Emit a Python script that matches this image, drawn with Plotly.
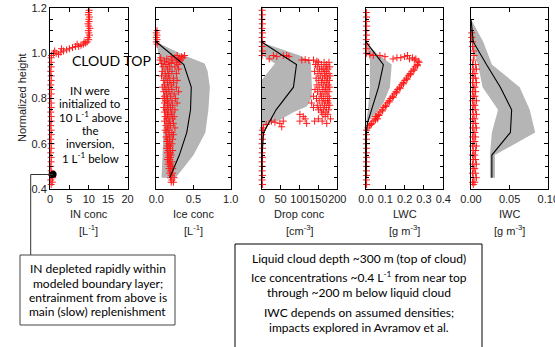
import plotly.graph_objects as go

W, H = 555, 347

# ---------------- DATA ----------------
# Panel 1: IN concentration [L^-1]
in_h = [0.42, 0.43, 0.44, 0.45, 0.46, 0.47, 0.48, 0.50, 0.52, 0.54, 0.56, 0.58, 0.60, 0.62, 0.64,
        0.66, 0.68, 0.70, 0.72, 0.74, 0.76, 0.78, 0.80, 0.82, 0.84, 0.86, 0.88, 0.90, 0.92,
        0.94, 0.96, 0.98, 0.99,
        1.00, 1.00, 0.995, 1.005, 1.01, 1.01, 1.015, 1.02, 1.02, 1.025, 1.03, 1.03, 1.035,
        1.04, 1.04, 1.045, 1.05, 1.05,
        1.06, 1.07, 1.08, 1.09, 1.10, 1.11, 1.12, 1.13, 1.14, 1.15, 1.16, 1.17, 1.18, 1.19]
in_x = [0.3, 0.6, 0.2, 0.7, 0.4, 0.5, 0.3, 0.2, 0.3, 0.3, 0.2, 0.3, 0.3, 0.2, 0.3,
        0.3, 0.2, 0.3, 0.3, 0.2, 0.3, 0.3, 0.2, 0.3, 0.3, 0.2, 0.3, 0.3, 0.2,
        0.3, 0.3, 0.3, 0.4,
        0.9, 1.6, 2.2, 2.8, 3.5, 1.2, 4.3, 5.0, 3.0, 5.8, 6.6, 7.4, 8.0,
        8.6, 7.0, 9.2, 9.6, 8.8,
        10.0, 9.8, 10.2, 10.0, 9.9, 10.3, 10.0, 9.8, 10.1, 10.0, 10.2, 9.9, 10.0, 10.1]
in_dot_h = [0.465]
in_dot_x = [0.8]

# Panel 2: Ice concentration [L^-1]
ice_h = [1.04, 1.05, 1.06, 1.07, 1.08, 1.09, 1.10,
         0.99, 0.99, 0.985, 0.985, 0.98, 0.98, 0.98, 0.975, 0.975, 0.97, 0.97, 0.97,
         0.965, 0.965, 0.96, 0.96, 0.955, 0.955, 0.95, 0.95, 0.94, 0.94, 0.94,
         0.93, 0.93, 0.92, 0.92, 0.91, 0.91, 0.91, 0.90, 0.90, 0.89, 0.89,
         0.88, 0.88, 0.88, 0.87, 0.87, 0.86, 0.86, 0.85, 0.85, 0.85, 0.84, 0.84,
         0.83, 0.83, 0.83, 0.82, 0.82, 0.81, 0.81, 0.80, 0.80, 0.80, 0.79, 0.79,
         0.78, 0.78, 0.78, 0.77, 0.77, 0.76, 0.76, 0.75, 0.75, 0.75, 0.74, 0.74,
         0.73, 0.73, 0.72, 0.72, 0.72, 0.71, 0.71, 0.70, 0.70, 0.69, 0.69,
         0.68, 0.68, 0.67, 0.67, 0.66, 0.66, 0.65, 0.65, 0.64, 0.64, 0.63, 0.63,
         0.62, 0.62, 0.61, 0.61, 0.60, 0.60, 0.59, 0.59, 0.58, 0.58, 0.57, 0.57,
         0.56, 0.56, 0.55, 0.55, 0.54, 0.54, 0.53, 0.53, 0.52, 0.52, 0.51, 0.51,
         0.50, 0.50, 0.49, 0.49, 0.48, 0.47, 0.47, 0.46, 0.45, 0.45, 0.44, 0.43, 0.43]
ice_x = [0.01, 0.00, 0.01, 0.00, 0.01, 0.00, 0.01,
         0.28, 0.38, 0.20, 0.34, 0.06, 0.25, 0.36, 0.14, 0.30, 0.05, 0.22, 0.32,
         0.11, 0.31, 0.17, 0.27, 0.07, 0.20, 0.13, 0.29, 0.09, 0.18, 0.25,
         0.15, 0.30, 0.08, 0.21, 0.12, 0.17, 0.27, 0.07, 0.16, 0.13, 0.23,
         0.10, 0.18, 0.28, 0.15, 0.23, 0.11, 0.20, 0.08, 0.16, 0.27, 0.13, 0.21,
         0.10, 0.17, 0.30, 0.14, 0.24, 0.11, 0.19, 0.09, 0.15, 0.26, 0.13, 0.21,
         0.11, 0.17, 0.28, 0.15, 0.22, 0.10, 0.19, 0.13, 0.16, 0.25, 0.11, 0.21,
         0.15, 0.20, 0.12, 0.17, 0.24, 0.14, 0.22, 0.11, 0.18, 0.16, 0.23,
         0.13, 0.19, 0.15, 0.25, 0.12, 0.17, 0.14, 0.21, 0.17, 0.23, 0.13, 0.18,
         0.15, 0.22, 0.14, 0.18, 0.16, 0.21, 0.15, 0.19, 0.14, 0.18, 0.16, 0.22,
         0.15, 0.19, 0.17, 0.20, 0.16, 0.19, 0.15, 0.18, 0.17, 0.21, 0.16, 0.19,
         0.18, 0.21, 0.17, 0.22, 0.19, 0.18, 0.22, 0.20, 0.19, 0.24, 0.21, 0.20, 0.23]
ice_line_h = [1.05, 0.95, 0.85, 0.75, 0.65, 0.55, 0.45]
ice_line_x = [0.00, 0.37, 0.47, 0.46, 0.41, 0.31, 0.18]
ice_hi_h = [1.05, 1.00, 0.99, 0.955, 0.92, 0.85, 0.75, 0.65, 0.55, 0.50, 0.45]
ice_hi_x = [0.00, 0.30, 0.38, 0.65, 0.69, 0.72, 0.70, 0.66, 0.50, 0.38, 0.26]
ice_lo_h = [0.45, 0.50, 0.60, 0.70, 0.80, 0.90, 0.95, 1.00, 1.05]
ice_lo_x = [0.07, 0.08, 0.09, 0.10, 0.10, 0.08, 0.05, 0.02, 0.00]

# Panel 3: Drop concentration [cm^-3]
drop_h = [1.19, 1.17, 1.15, 1.13, 1.11, 1.09, 1.07, 1.05, 1.03, 1.01, 0.99,
          0.99, 0.985, 0.99, 0.99, 0.985, 0.975,
          0.97, 0.972, 0.968, 0.97, 0.965,
          0.96, 0.96, 0.96, 0.95, 0.95, 0.95, 0.94, 0.94, 0.94, 0.93, 0.93, 0.93,
          0.92, 0.92, 0.92, 0.91, 0.91, 0.91, 0.90, 0.90, 0.90, 0.89, 0.89, 0.89,
          0.88, 0.88, 0.88, 0.87, 0.87, 0.86, 0.86, 0.86, 0.85, 0.85, 0.85,
          0.84, 0.84, 0.84, 0.83, 0.83, 0.83, 0.82, 0.82, 0.81, 0.81, 0.81,
          0.80, 0.80, 0.80, 0.79, 0.79, 0.79, 0.78, 0.78, 0.78, 0.77, 0.77, 0.77,
          0.76, 0.76, 0.76, 0.75, 0.75, 0.75, 0.74, 0.74, 0.73, 0.73, 0.73,
          0.72, 0.72, 0.71, 0.71, 0.70, 0.70, 0.69, 0.69, 0.71, 0.70,
          0.70, 0.695, 0.69, 0.70, 0.675, 0.685, 0.67,
          0.66, 0.64, 0.62, 0.60, 0.58, 0.56, 0.54, 0.52, 0.50, 0.48, 0.46, 0.44, 0.42]
drop_x = [1, 2, 1, 2, 1, 2, 1, 2, 1, 2, 1,
          31, 40, 57, 66, 72, 20,
          106, 115, 125, 137, 146,
          150, 165, 178, 142, 158, 172, 147, 168, 180, 153, 163, 175,
          140, 159, 171, 149, 166, 178, 155, 170, 181, 144, 161, 174,
          151, 167, 179, 158, 172, 146, 163, 176, 152, 169, 180,
          141, 160, 173, 148, 165, 178, 155, 170, 137, 158, 175,
          145, 163, 179, 152, 168, 174, 132, 160, 176, 147, 166, 180,
          137, 155, 171, 150, 163, 177, 158, 170, 101, 162, 175,
          110, 168, 115, 150, 101, 140, 119, 172, 182, 160,
          26, 35, 48, 57, 53, 12, 5,
          2, 1, 2, 1, 2, 1, 2, 1, 2, 1, 2, 1, 2]
drop_line_h = [1.05, 0.95, 0.85, 0.75, 0.65, 0.55, 0.45]
drop_line_x = [0, 92, 84, 38, 5, 1, 0]
drop_hi_h = [1.047, 0.99, 0.96, 0.85, 0.80, 0.765, 0.74, 0.705, 0.683, 0.675]
drop_hi_x = [0, 101, 130, 133, 132, 119, 85, 48, 13, 0]
drop_lo_h = [0.675, 0.882, 0.955, 0.992, 1.047]
drop_lo_x = [0, 0, 35, 0, 0]

# Panel 4: LWC [g m^-3]
lwc_h = [1.18, 1.16, 1.14, 1.12, 1.10, 1.08, 1.06, 1.04, 1.02, 1.00,
         0.995, 0.99, 0.99, 0.985,
         0.975, 0.98, 0.98, 0.985, 0.99, 0.975, 0.98, 0.975, 0.965, 0.97, 0.96,
         0.95, 0.94, 0.93, 0.92, 0.91, 0.90, 0.89, 0.88, 0.87, 0.86, 0.85, 0.84, 0.83,
         0.82, 0.81, 0.80, 0.79, 0.78, 0.77, 0.76, 0.75, 0.74, 0.73, 0.72, 0.71,
         0.70, 0.69, 0.68, 0.67,
         0.945, 0.925, 0.905, 0.885, 0.865, 0.845, 0.825, 0.805, 0.785, 0.765,
         0.745, 0.725, 0.705, 0.685, 0.71, 0.72,
         0.66, 0.64, 0.62, 0.60, 0.58, 0.56, 0.54, 0.52, 0.50, 0.48, 0.46, 0.44, 0.42]
lwc_x = [0.002, 0.003, 0.002, 0.003, 0.002, 0.003, 0.002, 0.003, 0.002, 0.003,
         0.020, 0.038, 0.072, 0.098,
         0.140, 0.160, 0.180, 0.200, 0.215, 0.225, 0.240, 0.258, 0.270, 0.250, 0.275,
         0.265, 0.255, 0.246, 0.237, 0.228, 0.219, 0.210, 0.201, 0.192, 0.183, 0.174, 0.164, 0.155,
         0.146, 0.137, 0.128, 0.119, 0.110, 0.101, 0.092, 0.083, 0.073, 0.064, 0.055, 0.046,
         0.037, 0.028, 0.019, 0.010,
         0.266, 0.248, 0.230, 0.212, 0.194, 0.176, 0.158, 0.140, 0.121, 0.103,
         0.085, 0.067, 0.049, 0.026, 0.060, 0.050,
         0.003, 0.002, 0.003, 0.002, 0.003, 0.002, 0.003, 0.002, 0.003, 0.002, 0.003, 0.002, 0.003]
lwc_line_h = [1.05, 0.95, 0.85, 0.75, 0.69, 0.65, 0.55, 0.45]
lwc_line_x = [0.0, 0.090, 0.065, 0.030, 0.007, 0.002, 0.0, 0.0]
lwc_hi_h = [1.05, 1.00, 0.95, 0.85, 0.78, 0.73, 0.69]
lwc_hi_x = [0.0, 0.055, 0.133, 0.124, 0.090, 0.047, 0.0]
lwc_lo_h = [0.69, 0.75, 0.85, 0.95, 0.97, 1.00, 1.05]
lwc_lo_x = [0.0, 0.010, 0.020, 0.020, 0.020, 0.010, 0.0]

# Panel 5: IWC [g m^-3]
iwc_h = [1.09, 1.07, 1.05, 1.03, 1.01, 0.99, 0.97,
         0.95, 0.95, 0.93, 0.93, 0.91, 0.91, 0.89, 0.89, 0.87, 0.87, 0.85, 0.85,
         0.83, 0.83, 0.81, 0.81, 0.79, 0.79, 0.77, 0.77, 0.75, 0.75, 0.73, 0.73,
         0.71, 0.71, 0.69, 0.69, 0.67, 0.67, 0.65, 0.65, 0.63, 0.63, 0.61, 0.61,
         0.59, 0.59, 0.57, 0.57, 0.55, 0.55, 0.53, 0.53, 0.51, 0.51, 0.49, 0.49,
         0.47, 0.47, 0.45, 0.45, 0.43, 0.43, 0.42]
iwc_x = [0.001, 0.001, 0.002, 0.002, 0.003, 0.004, 0.003,
         0.002, 0.006, 0.003, 0.007, 0.002, 0.005, 0.003, 0.006, 0.002, 0.007, 0.003, 0.005,
         0.002, 0.006, 0.003, 0.005, 0.002, 0.007, 0.003, 0.005, 0.002, 0.006, 0.003, 0.007,
         0.002, 0.005, 0.003, 0.006, 0.002, 0.007, 0.003, 0.005, 0.002, 0.006, 0.003, 0.005,
         0.002, 0.007, 0.003, 0.006, 0.002, 0.005, 0.003, 0.006, 0.002, 0.007, 0.003, 0.005,
         0.002, 0.006, 0.003, 0.007, 0.002, 0.005, 0.003]
iwc_line_h = [1.15, 1.05, 0.95, 0.85, 0.75, 0.65, 0.55, 0.45]
iwc_line_x = [0.0, 0.003, 0.020, 0.038, 0.0526, 0.051, 0.027, 0.027]
iwc_hi_h = [1.15, 1.05, 0.95, 0.85, 0.75, 0.65, 0.55, 0.45]
iwc_hi_x = [0.0, 0.016, 0.027, 0.063, 0.076, 0.083, 0.031, 0.031]
iwc_lo_h = [0.45, 0.55, 0.65, 0.75, 0.85, 0.95, 1.05, 1.15]
iwc_lo_x = [0.0245, 0.0245, 0.027, 0.035, 0.015, 0.009, 0.0, 0.0]

# Axis settings (ranges, tick labels, titles)
x_ranges = [[0, 20], [0, 1.0], [0, 200], [0, 0.4], [0, 0.1]]
x_tickvals = [[0, 5, 10, 15, 20], [0, 0.5, 1.0], [0, 50, 100, 150, 200],
              [0, 0.1, 0.2, 0.3, 0.4], [0, 0.05, 0.1]]
x_ticktext = [["0", "5", "10", "15", "20"], ["0.0", "0.5", "1.0"], ["0", "50", "100", "150", "200"],
              ["0.0", "0.1", "0.2", "0.3", "0.4"], ["0.00", "0.05", "0.10"]]
y_tickvals = [0.4, 0.6, 0.8, 1.0, 1.2]
y_ticktext = ["0.4", "0.6", "0.8", "1.0", "1.2"]
x_titles = ["IN conc", "Ice conc", "Drop conc", "LWC", "IWC"]
x_units = ["[L<sup>-1</sup>]", "[L<sup>-1</sup>]", "[cm<sup>-3</sup>]", "[g m<sup>-3</sup>]", "[g m<sup>-3</sup>]"]

# ---------------- FIGURE ----------------
RED = "#ff1a1a"
GRAY = "#b5b5b5"
px_dom = [(50, 127.5), (156.3, 230.7), (261.7, 337.3), (366, 443.3), (471, 548.3)]
ydom = [1 - 189 / H, 1 - 8 / H]

fig = go.Figure()


def band(hi_h, hi_x, lo_h, lo_x, i):
    sfx = "" if i == 1 else str(i)
    fig.add_trace(go.Scatter(x=list(hi_x) + list(lo_x), y=list(hi_h) + list(lo_h),
                             mode="lines", fill="toself", fillcolor=GRAY,
                             line=dict(width=0, color=GRAY), hoverinfo="skip",
                             xaxis="x" + sfx, yaxis="y" + sfx, showlegend=False))


def line(h, x, i):
    sfx = "" if i == 1 else str(i)
    fig.add_trace(go.Scatter(x=x, y=h, mode="lines", line=dict(color="black", width=1.1),
                             xaxis="x" + sfx, yaxis="y" + sfx, showlegend=False))


def pts(h, x, i):
    sfx = "" if i == 1 else str(i)
    fig.add_trace(go.Scatter(x=x, y=h, mode="markers",
                             marker=dict(symbol="cross-thin", size=5, line=dict(width=1, color=RED), color=RED),
                             xaxis="x" + sfx, yaxis="y" + sfx, showlegend=False, cliponaxis=False))


pts(in_h, in_x, 1)
fig.add_trace(go.Scatter(x=in_dot_x, y=in_dot_h, mode="markers",
                         marker=dict(symbol="circle", size=7, color="black"),
                         showlegend=False, cliponaxis=False))
band(ice_hi_h, ice_hi_x, ice_lo_h, ice_lo_x, 2)
pts(ice_h, ice_x, 2)
line(ice_line_h, ice_line_x, 2)
band(drop_hi_h, drop_hi_x, drop_lo_h, drop_lo_x, 3)
pts(drop_h, drop_x, 3)
line(drop_line_h, drop_line_x, 3)
band(lwc_hi_h, lwc_hi_x, lwc_lo_h, lwc_lo_x, 4)
pts(lwc_h, lwc_x, 4)
line(lwc_line_h, lwc_line_x, 4)
band(iwc_hi_h, iwc_hi_x, iwc_lo_h, iwc_lo_x, 5)
pts(iwc_h, iwc_x, 5)
line(iwc_line_h, iwc_line_x, 5)

TICKFONT = dict(family="Liberation Sans, Arial, sans-serif", size=11, color="#222")
layout = {}
for i in range(5):
    sfx = "" if i == 0 else str(i + 1)
    a, b = px_dom[i]
    layout["xaxis" + sfx] = dict(
        domain=[a / W, b / W], range=x_ranges[i], tickmode="array",
        tickvals=x_tickvals[i], ticktext=x_ticktext[i],
        anchor="y" + sfx, showline=True, linecolor="black", ticklabeloverflow="allow",
        linewidth=1, mirror="allticks", ticks="inside", ticklen=4, tickcolor="black",
        tickangle=0, showgrid=False, zeroline=False, tickfont=TICKFONT, fixedrange=True,
        automargin=False)
    layout["yaxis" + sfx] = dict(
        domain=ydom, range=[0.4, 1.2], tickmode="array", tickvals=y_tickvals, ticktext=y_ticktext,
        anchor="x" + sfx, showline=True, linecolor="black", linewidth=1,
        mirror="allticks", ticks="inside", ticklen=4, tickcolor="black",
        minor=dict(dtick=0.05, tick0=0, ticks="inside", ticklen=3, tickcolor="black"),
        showgrid=False, zeroline=False, showticklabels=(i == 0), tickfont=TICKFONT,
        fixedrange=True, automargin=False)

TXT = "Lato, Open Sans, sans-serif"
ann = []
for i in range(5):
    a, b = px_dom[i]
    cx = (a + b) / 2 / W
    ann.append(dict(x=cx, y=1 - 214 / H, xref="paper", yref="paper", text=x_titles[i],
                    showarrow=False, font=dict(family="Liberation Sans, Arial", size=11, color="#222"),
                    xanchor="center", yanchor="middle"))
    ann.append(dict(x=cx, y=1 - 230 / H, xref="paper", yref="paper", text=x_units[i],
                    showarrow=False, font=dict(family="Liberation Sans, Arial", size=11, color="#222"),
                    xanchor="center", yanchor="middle"))

ann.append(dict(x=22 / W, y=1 - 98 / H, xref="paper", yref="paper", text="Normalized height",
                textangle=-90, showarrow=False,
                font=dict(family="Liberation Sans, Arial", size=11, color="#222"),
                xanchor="center", yanchor="middle"))
ann.append(dict(x=111 / W, y=1 - 60 / H, xref="paper", yref="paper", text="CLOUD TOP",
                showarrow=False, font=dict(family=TXT, size=14, color="black"),
                xanchor="center", yanchor="middle"))
in_lines = ["IN were", "initialized to", "10 L<sup>-1</sup> above", "the", "inversion,", "1 L<sup>-1</sup> below"]
in_ys = [90, 103.5, 117, 130.5, 144, 157.5]
for t, yy in zip(in_lines, in_ys):
    ann.append(dict(x=90 / W, y=1 - yy / H, xref="paper", yref="paper", text=t, showarrow=False,
                    font=dict(family=TXT, size=11.5, color="black"), xanchor="center", yanchor="middle"))

box1 = ["IN depleted rapidly within", "modeled boundary layer;",
        "entrainment from above is", "main (slow) replenishment"]
box1_y = [268.5, 283, 297.5, 311.5]
for t, yy in zip(box1, box1_y):
    ann.append(dict(x=97.5 / W, y=1 - yy / H, xref="paper", yref="paper", text=t, showarrow=False,
                    font=dict(family=TXT, size=12, color="black"), xanchor="center", yanchor="middle"))

box2 = ["Liquid cloud depth ~300 m (top of cloud)",
        "Ice concentrations ~0.4 L<sup>-1</sup> from near top",
        "through ~200 m below liquid cloud",
        "IWC depends on assumed densities;",
        "impacts explored in Avramov et al."]
box2_y = [258.5, 277, 292.5, 312, 327.5]
for t, yy in zip(box2, box2_y):
    ann.append(dict(x=358.5 / W, y=1 - yy / H, xref="paper", yref="paper", text=t, showarrow=False,
                    font=dict(family=TXT, size=12, color="black"), xanchor="center", yanchor="middle"))

shapes = [
    dict(type="line", xref="paper", yref="paper", x0=53 / W, x1=30.7 / W, y0=1 - 174.5 / H, y1=1 - 174.5 / H,
         line=dict(color="#333", width=1)),
    dict(type="line", xref="paper", yref="paper", x0=30.7 / W, x1=30.7 / W, y0=1 - 174.5 / H, y1=1 - 255 / H,
         line=dict(color="#333", width=1)),
    dict(type="rect", xref="paper", yref="paper", x0=20 / W, x1=175 / W, y0=1 - 255 / H, y1=1 - 325 / H,
         line=dict(color="#444", width=1)),
    dict(type="rect", xref="paper", yref="paper", x0=235 / W, x1=482 / W, y0=1 - 244 / H, y1=1 - 360 / H,
         line=dict(color="black", width=1)),
]

fig.update_layout(width=W, height=H, margin=dict(l=0, r=0, t=0, b=0, autoexpand=False),
                  paper_bgcolor="white", plot_bgcolor="white", showlegend=False,
                  annotations=ann, shapes=shapes, **layout)

fig.write_html("out.html", config={"displayModeBar": False, "staticPlot": True},
               post_script="document.body.style.margin='0px';document.body.style.padding='0px';"
                           "document.body.style.overflow='hidden';")
